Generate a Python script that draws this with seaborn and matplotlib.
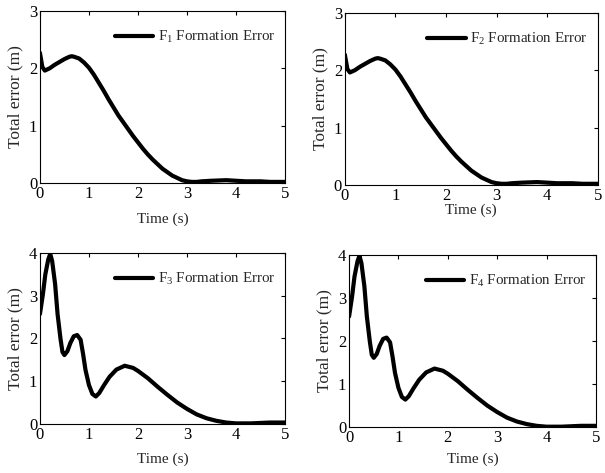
import numpy as np
import pandas as pd
import matplotlib
matplotlib.use("Agg")
import matplotlib.pyplot as plt
import seaborn as sns

# Formation error of followers F1/F2 (identical response)
t_a = [0, 0.05, 0.1, 0.2, 0.3, 0.4, 0.5, 0.6, 0.65, 0.7, 0.8, 0.9, 1.0, 1.1, 1.2, 1.3,
       1.4, 1.5, 1.6, 1.7, 1.8, 1.9, 2.0, 2.1, 2.2, 2.3, 2.4, 2.5, 2.6, 2.7, 2.8,
       2.9, 3.0, 3.1, 3.2, 3.3, 3.5, 3.8, 4.0, 4.2, 4.5, 4.7, 5.0]
err_a = [2.27, 2.02, 1.96, 2.00, 2.06, 2.11, 2.16, 2.20, 2.21, 2.20, 2.17, 2.10, 2.01,
         1.89, 1.75, 1.61, 1.46, 1.32, 1.18, 1.06, 0.94, 0.82, 0.71, 0.60, 0.50,
         0.41, 0.33, 0.25, 0.19, 0.13, 0.09, 0.05, 0.03, 0.02, 0.02, 0.03, 0.04,
         0.05, 0.04, 0.03, 0.03, 0.02, 0.02]

# Formation error of followers F3/F4 (identical response)
t_b = [0, 0.06, 0.11, 0.17, 0.21, 0.25, 0.31, 0.36, 0.42, 0.46, 0.50, 0.56, 0.62,
       0.69, 0.76, 0.83, 0.88, 0.93, 1.0, 1.07, 1.14, 1.21, 1.31, 1.42, 1.56, 1.73,
       1.9, 2.0, 2.2, 2.4, 2.6, 2.8, 3.0, 3.2, 3.4, 3.6, 3.8, 4.0, 4.3, 4.5, 4.7, 5.0]
err_b = [2.57, 3.03, 3.50, 3.85, 3.98, 3.81, 3.27, 2.57, 1.99, 1.68, 1.61, 1.70, 1.89,
         2.05, 2.08, 1.97, 1.64, 1.26, 0.91, 0.70, 0.64, 0.72, 0.91, 1.10, 1.27,
         1.36, 1.31, 1.24, 1.07, 0.87, 0.68, 0.50, 0.35, 0.22, 0.13, 0.07, 0.03,
         0.01, 0.01, 0.02, 0.03, 0.03]

labels = ["F$_1$ Formation Error", "F$_2$ Formation Error",
          "F$_3$ Formation Error", "F$_4$ Formation Error"]
ylims = [3, 3, 4, 4]

sns.set_style("white")
plt.rcParams["font.family"] = ["Liberation Serif", "DejaVu Serif"]
plt.rcParams["mathtext.fontset"] = "custom"
plt.rcParams["mathtext.rm"] = "Liberation Serif"
plt.rcParams["mathtext.it"] = "Liberation Serif"

fig = plt.figure(figsize=(6.05, 4.73), dpi=100)
rects = [
    [0.066, 0.613, 0.405, 0.364],
    [0.570, 0.609, 0.418, 0.364],
    [0.066, 0.104, 0.405, 0.361],
    [0.577, 0.097, 0.408, 0.364],
]
xpads = [8, 0, 7.5, 4.5]

for i, rect in enumerate(rects):
    ax = fig.add_axes(rect)
    if i < 2:
        df = pd.DataFrame({"t": t_a, "e": err_a})
    else:
        df = pd.DataFrame({"t": t_b, "e": err_b})
    sns.lineplot(data=df, x="t", y="e", ax=ax, color="black", linewidth=3,
                 label=labels[i], solid_joinstyle="round", solid_capstyle="round")
    ax.set_xlim(0, 5)
    ax.set_ylim(0, ylims[i])
    ax.set_xticks(range(0, 6))
    ax.set_yticks(range(0, ylims[i] + 1))
    ax.set_xlabel("Time (s)", fontsize=11, labelpad=xpads[i])
    ax.set_ylabel("Total error (m)", fontsize=12.5, labelpad=4)
    ax.tick_params(direction="in", top=True, right=True, length=3,
                   width=0.8, labelsize=12, pad=2, colors="black")
    for s in ax.spines.values():
        s.set_color("black")
        s.set_linewidth(0.8)
    ax.legend(loc="upper right", bbox_to_anchor=(0.984, 0.93), frameon=False,
              fontsize=10.8, handlelength=2.55, handletextpad=0.3,
              borderaxespad=0.0)

fig.savefig("out.png", dpi=100)
